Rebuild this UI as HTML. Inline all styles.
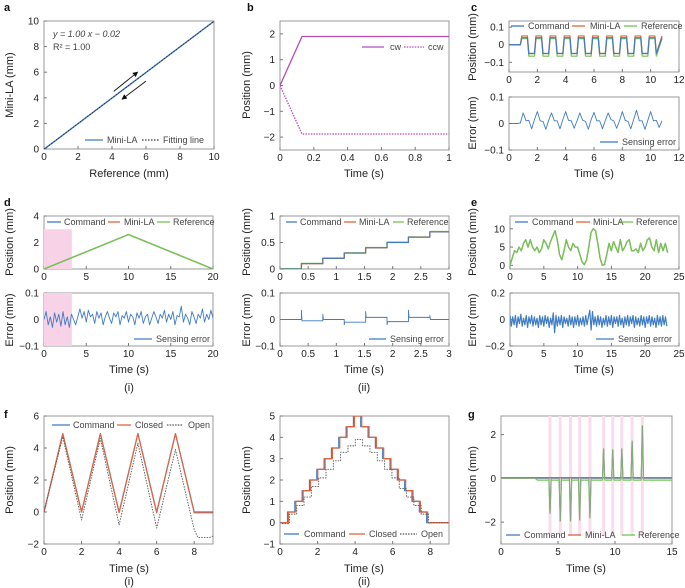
<!DOCTYPE html>
<html><head><meta charset="utf-8">
<style>
html,body{margin:0;padding:0;background:#fff;}
svg{display:block;font-family:"Liberation Sans",sans-serif;}
.tk{font-size:10px;fill:#222;}
.tt{font-size:11px;fill:#222;}
.lg{font-size:9px;fill:#444;}
.pl{font-size:11px;font-weight:bold;fill:#111;}
</style></head>
<body>
<svg id="fig" width="685" height="588" viewBox="0 0 685 588"></svg>
<script>
// ---------- data ----------
const aRef=[0,10];
const aMini=[-0.02,9.98];
const aXTicks=[0,2,4,6,8,10];
const aYTicks=[0,2,4,6,8,10];

const bTime=[0,0.13,1];
const bCw=[0,1.9,1.9];
const bCcw=[0,-1.88,-1.88];
const bXTicks=[0,0.2,0.4,0.6,0.8,1];
const bYTicks=[-2,-1,0,1,2];

const cTime=[0,0.8,0.9,1.3,1.4,1.8,1.9,2.3,2.4,2.8,2.9,3.3,3.4,3.8,3.9,4.3,4.4,4.8,4.9,5.3,5.4,5.8,5.9,6.3,6.4,6.8,6.9,7.3,7.4,7.8,7.9,8.3,8.4,8.8,8.9,9.3,9.4,9.8,9.9,10.3,10.4,10.8];
const cCmd=[0,0,0.04,0.04,-0.05,-0.05,0.04,0.04,-0.05,-0.05,0.04,0.04,-0.05,-0.05,0.04,0.04,-0.05,-0.05,0.04,0.04,-0.05,-0.05,0.04,0.04,-0.05,-0.05,0.04,0.04,-0.05,-0.05,0.04,0.04,-0.05,-0.05,0.04,0.04,-0.05,-0.05,0.04,0.04,-0.05,0.04];
const cMini=[0,0,0.05,0.05,-0.05,-0.05,0.05,0.05,-0.05,-0.05,0.05,0.05,-0.05,-0.05,0.05,0.05,-0.05,-0.05,0.05,0.05,-0.05,-0.05,0.05,0.05,-0.05,-0.05,0.05,0.05,-0.05,-0.05,0.05,0.05,-0.05,-0.05,0.05,0.05,-0.05,-0.05,0.05,0.05,-0.05,0.05];
const cRefS=[0,0,0.035,0.035,-0.065,-0.065,0.035,0.035,-0.065,-0.065,0.035,0.035,-0.065,-0.065,0.035,0.035,-0.065,-0.065,0.035,0.035,-0.065,-0.065,0.035,0.035,-0.065,-0.065,0.035,0.035,-0.065,-0.065,0.035,0.035,-0.065,-0.065,0.035,0.035,-0.065,-0.065,0.035,0.035,-0.065,0.035];
const cErrDt=0.2;
const cErr=[0,0,0,0,0.002,0.04,0.01,0.012,-0.02,0.015,0.045,0.01,0.008,-0.022,0.012,0.04,0.01,0.01,-0.02,0.015,0.045,0.012,0.01,-0.018,0.01,0.04,0.012,0.008,-0.022,0.015,0.042,0.01,0.01,-0.02,0.012,0.04,0.015,0.01,-0.018,0.01,0.045,0.012,0.008,-0.02,0.015,0.05,0.01,0.01,-0.022,0.012,0.045,0.01,0.012,-0.015,0.01];
const cXTicks=[0,2,4,6,8,10,12];
const cYTicks=[-0.1,0,0.1];

const d1Time=[0,10,20];
const d1Pos=[0,2.6,0];
const d1Highlight=[0,3.3];
const d1ErrDt=0.25;
const d1Err=[0,0.03,-0.02,0.01,-0.03,0.025,-0.01,0.02,-0.025,0.03,-0.02,0.01,-0.03,0.02,0,-0.02,0.01,0.04,0.005,0.03,-0.01,0.035,0.01,0.02,-0.015,0.03,0.005,0.025,-0.02,0.01,0.03,0.005,-0.015,0.025,0.01,0.03,-0.02,0.015,0.005,0.03,-0.01,0.02,0.01,-0.02,0.025,0.005,0.03,-0.015,0.01,0.02,-0.02,0.005,0.03,0.01,-0.015,0.02,0.005,0.035,-0.01,0.02,0,0.03,-0.02,0.015,0.01,0.05,-0.01,0.02,0.005,-0.02,0.03,0.01,-0.015,0.02,0.005,0.04,-0.01,0.02,0,0.035,0.005];
const d1XTicks=[0,5,10,15,20];

const d2StepT=[0,0.38,0.76,1.14,1.52,1.9,2.28,2.66,3];
const d2StepV=[0,0.1,0.2,0.3,0.4,0.5,0.6,0.7,0.7];
const d2ErrOff=[0,-0.005,0,-0.01,0.008,-0.008,0.008,0,0];
const d2Spike=[0,0.035,0.02,-0.02,0.03,-0.02,0.035,0.015,0];
const d2XTicks=[0,0.5,1,1.5,2,2.5,3];

const eDt=0.333;
const ePos=[0,2,4,3.5,5,4,6,7,5,7,5,4,5,3.5,4.5,7,6,4.5,6.5,8,9.5,7,3,1.5,4,7,5,4,6,5,5,3,1,0.2,1.5,5,9,10,9.5,6,2,0,0.2,3,6,4,6.5,5,3.5,7,4,5,6.5,7,4,4,4.5,3.5,6,4,5,7,7.5,5,4,7,3.5,6,4,6,3.5];
const eErrDt=0.2;
const eErr=[0.03,-0.05,0.02,-0.04,0.03,-0.06,0.02,-0.03,0.04,-0.05,0.01,-0.04,0.03,-0.06,0.02,-0.03,0.03,-0.05,0.02,-0.04,0.01,-0.06,0.03,-0.04,0.02,-0.05,0.03,-0.03,0.02,-0.06,0.01,-0.04,0.05,-0.1,0.03,-0.05,0.02,-0.04,0.03,-0.06,0.02,-0.03,0.01,-0.05,0.03,-0.04,0.02,-0.06,0.02,-0.04,0.03,-0.05,0.01,-0.04,0.02,-0.05,0.03,-0.04,0.02,0.07,-0.08,0.06,-0.04,0.02,-0.05,0.03,-0.04,0.02,-0.06,0.01,-0.04,0.03,-0.05,0.02,-0.04,0.03,-0.06,0.02,-0.03,0.02,-0.05,0.03,-0.04,0.01,-0.06,0.02,-0.04,0.03,-0.05,0.02,-0.03,0.03,-0.06,0.02,-0.04,0.01,-0.05,0.03,-0.04,0.02,-0.06,0.02,-0.03,0.03,-0.05,0.02,-0.04,0.01,-0.06,0.03,-0.04,0.02,-0.05,0.03,-0.04,0.02,-0.05];
const eXTicks=[0,5,10,15,20,25];

const f1Time=[0,1,2,3,4,5,6,7,8,9];
const f1Cmd=[0,4.9,0,4.9,0,4.9,0,4.9,0,0];
const f1Closed=[0,4.9,0,4.9,-0.05,4.9,-0.05,4.9,-0.05,-0.05];
const f1OpenT=[0,1,2,3,4,5,6,7,8,8.2,8.8,9];
const f1Open=[0,4.7,-0.5,4.6,-0.8,4.3,-1,3.9,-1.1,-1.6,-1.6,-1.5];
const fXTicks=[0,2,4,6,8];

const f2StepT=[0,0.4,0.79,1.18,1.57,1.96,2.35,2.74,3.13,3.52,3.91,4.3,4.69,5.08,5.47,5.86,6.25,6.64,7.03,7.42,7.81,9];
const f2Cmd=[0,0.5,1,1.5,2,2.5,3,3.5,4,4.5,5,4.5,4,3.5,3,2.5,2,1.5,1,0.5,0,0];
const f2Open=[-0.05,0.4,0.8,1.2,1.7,2.1,2.5,2.9,3.3,3.6,3.9,3.6,3.3,2.9,2.5,2.1,1.6,1.2,0.8,0.4,0,-0.3];
const f2YTicks=[-1,0,1,2,3,4,5];

const gSpikeT=[4.3,5.2,6.1,6.9,7.8,9.0,9.8,10.6,11.5,12.4];
const gSpikeV=[-1.6,-1.95,-1.95,-1.9,-1.8,1.35,1.3,1.35,1.7,2.4];
const gXTicks=[0,5,10,15];
const gYTicks=[-2,0,2];

// ---------- helpers ----------
const NS='http://www.w3.org/2000/svg';
const svg=document.getElementById('fig');
function el(tag,attrs,parent){const e=document.createElementNS(NS,tag);for(const k in attrs)e.setAttribute(k,attrs[k]);(parent||svg).appendChild(e);return e;}
function fmt(v){let s=String(Math.round(v*1000)/1000);return s.replace('-','\u2212');}
function axes(name,x,y,w,h,xlim,ylim,xt,yt,showX){
  const g=el('g',{});
  
  
  const sx=v=>x+(v-xlim[0])/(xlim[1]-xlim[0])*w;
  const sy=v=>y+h-(v-ylim[0])/(ylim[1]-ylim[0])*h;
  const fr=el('rect',{x:x,y:y,width:w,height:h,fill:'none',stroke:'#999','stroke-width':1},g);
  
  
  xt.forEach(v=>{
    el('line',{x1:sx(v),x2:sx(v),y1:y+h,y2:y+h-3,stroke:'#777'},g);
    if(showX!==false){const t=el('text',{x:sx(v),y:y+h+11,'text-anchor':'middle',class:'tk'},g);t.textContent=fmt(v);
    
    }
  });
  yt.forEach(v=>{
    el('line',{x1:x,x2:x+3,y1:sy(v),y2:sy(v),stroke:'#777'},g);
    const t=el('text',{x:x-5,y:sy(v)+3.5,'text-anchor':'end',class:'tk'},g);t.textContent=fmt(v);
    
    
  });
  const cid='c'+name;
  const cp=el('clipPath',{id:cid},g);el('rect',{x:x,y:y,width:w,height:h},cp);
  const inner=el('g',{'clip-path':'url(#'+cid+')'},g);
  return {sx,sy,g,inner};
}
function line(ax,xs,ys,color,name,opts){
  opts=opts||{};
  const pts=xs.map((v,i)=>ax.sx(v).toFixed(2)+','+ax.sy(ys[i]).toFixed(2)).join(' ');
  const p=el('polyline',{points:pts,fill:'none',stroke:color,'stroke-width':opts.w||1.2,'stroke-dasharray':opts.dash||'none','stroke-linejoin':'round'},ax.inner);
  
  
  return p;
}
function steps(t,v){const xs=[],ys=[];for(let i=0;i<t.length;i++){if(i>0){xs.push(t[i]);ys.push(v[i-1]);}xs.push(t[i]);ys.push(v[i]);}return [xs,ys];}
function seriesT(vals,dt){return vals.map((_,i)=>i*dt);}
function text(x,y,s,cls,name,extra){const t=el('text',Object.assign({x:x,y:y,class:cls},extra||{}));t.textContent=s;
  
  return t;}
function ytitle(x,cy,s,name){const t=el('text',{x:0,y:0,class:'tt','text-anchor':'middle',transform:'translate('+x+','+cy+') rotate(-90)'});t.textContent=s;
  
  }
function legend(x1,x2,y,color,label,tx,name,dash){
  const g=el('g',{});
  
  
  el('line',{x1:x1,x2:x2,y1:y,y2:y,stroke:color,'stroke-width':1.3,'stroke-dasharray':dash||'none'},g);
  const t=el('text',{x:tx,y:y+3,class:'lg'},g);t.textContent=label;
}
const BLUE='#3f7cc4',RED='#e2643c',GREEN='#72c654',PINK='#f8d3e8',PURP='#b84ab8';

// panel labels
[['a',4,11],['b',247,11],['c',471,11],['d',4,206],['e',471,206],['f',4,418],['g',468,418]].forEach(p=>text(p[1],p[2],p[0],'pl','panel-label-'+p[0]));

// ---- a ----
let A=axes('panel-a',44,21,170,128,[0,10],[0,10],aXTicks,aYTicks);
line(A,aRef,aMini,BLUE,'mini-la-line',{w:1.4});
line(A,aRef,aMini,'#223',"fitting-line",{w:0.8,dash:'1.5,1.5'});
el('line',{x1:A.sx(4.1),y1:A.sy(4.5),x2:A.sx(5.5),y2:A.sy(6.0),stroke:'#111','stroke-width':0.9,'marker-end':'url(#ar)'});
el('line',{x1:A.sx(6.0),y1:A.sy(5.3),x2:A.sx(4.6),y2:A.sy(3.9),stroke:'#111','stroke-width':0.9,'marker-end':'url(#ar)'});
const defs=el('defs',{});const mk=el('marker',{id:'ar',markerWidth:6,markerHeight:6,refX:5,refY:3,orient:'auto'},defs);el('path',{d:'M0,0 L6,3 L0,6 z',fill:'#111'},mk);
text(53,37,'y = 1.00 x \u2212 0.02','lg','fit-equation',{'font-style':'italic'});
text(53,50,'R\u00b2 = 1.00','lg','r-squared');
legend(85,103,140,BLUE,'Mini-LA',107,'legend-mini-la');
legend(142,159,140,'#333','Fitting line',163,'legend-fitting-line','1.5,1.5');
ytitle(13,85,'Mini-LA (mm)','y-axis-title-a');
text(129,177,'Reference (mm)','tt','x-axis-title-a',{'text-anchor':'middle'});

// ---- b ----
let B=axes('panel-b',280,21,169,129,[0,1],[-2.5,2.5],bXTicks,bYTicks);
line(B,bTime,bCw,PURP,'cw-line',{w:1.3});
line(B,bTime,bCcw,PURP,'ccw-line',{w:1.3,dash:'1.5,1.2'});
legend(362,384,47,PURP,'cw',390,'legend-cw');
legend(404,424,47,PURP,'ccw',428,'legend-ccw','1.5,1.2');
ytitle(250,85,'Position (mm)','y-axis-title-b');
text(364,177,'Time (s)','tt','x-axis-title-b',{'text-anchor':'middle'});

// ---- c ----
let C1=axes('panel-c-position',509,21,170,51,[0,12],[-0.155,0.135],cXTicks,cYTicks);
line(C1,cTime,cRefS,GREEN,'c-reference-line');
line(C1,cTime,cMini,RED,'c-mini-la-line');
line(C1,cTime,cCmd,BLUE,'c-command-line');
legend(511,524,26,BLUE,'Command',528,'legend-command');
legend(572,585,26,RED,'Mini-LA',590,'legend-mini-la');
legend(624,637,26,GREEN,'Reference',641,'legend-reference');
ytitle(476,47,'Position (mm)','y-axis-title-c-pos');
let C2=axes('panel-c-error',509,97,170,53,[0,12],[-0.1,0.1],cXTicks,cYTicks);
line(C2,seriesT(cErr,cErrDt),cErr,BLUE,'c-sensing-error-line',{w:0.9});
legend(600,618,142,BLUE,'Sensing error',622,'legend-sensing-error');
ytitle(476,123,'Error (mm)','y-axis-title-c-err');
text(594,177,'Time (s)','tt','x-axis-title-c',{'text-anchor':'middle'});

// ---- d(i) ----
let D1=axes('panel-d-i-position',44,216,169,53,[0,20],[0,4],d1XTicks,[0,2,4]);
el('rect',{x:D1.sx(d1Highlight[0]),y:D1.sy(3),width:D1.sx(d1Highlight[1])-D1.sx(d1Highlight[0]),height:D1.sy(0)-D1.sy(3),fill:PINK},D1.inner);
line(D1,d1Time,d1Pos,BLUE,'d-i-command-line');
line(D1,d1Time,d1Pos,RED,'d-i-mini-la-line');
line(D1,d1Time,d1Pos,GREEN,'d-i-reference-line',{w:1.4});
legend(47,61,222,BLUE,'Command',64,'legend-command');
legend(108,120,222,RED,'Mini-LA',124,'legend-mini-la');
legend(157,170,222,GREEN,'Reference',173,'legend-reference');
ytitle(13,242,'Position (mm)','y-axis-title-d-i-pos');
let D1e=axes('panel-d-i-error',44,293,169,53,[0,20],[-0.1,0.1],d1XTicks,[-0.1,0,0.1]);
el('rect',{x:D1e.sx(d1Highlight[0]),y:293,width:D1e.sx(d1Highlight[1])-D1e.sx(d1Highlight[0]),height:53,fill:PINK},D1e.inner);
line(D1e,seriesT(d1Err,d1ErrDt),d1Err,BLUE,'d-i-sensing-error-line',{w:0.9});
legend(134,152,339,BLUE,'Sensing error',156,'legend-sensing-error');
ytitle(13,320,'Error (mm)','y-axis-title-d-i-err');
text(129,373,'Time (s)','tt','x-axis-title-d-i',{'text-anchor':'middle'});
text(129,391,'(i)','tt','subpanel-label-i',{'text-anchor':'middle'});

// ---- d(ii) ----
let D2=axes('panel-d-ii-position',280,216,169,53,[0,3],[0,1],d2XTicks,[0,0.5,1]);
let st=steps(d2StepT,d2StepV);
line(D2,st[0],st[1].map(v=>v+0.005),GREEN,'d-ii-reference-line',{w:1.4});
line(D2,st[0],st[1],RED,'d-ii-mini-la-line');
line(D2,st[0],st[1],BLUE,'d-ii-command-line',{w:0.9});
legend(286,297,222,BLUE,'Command',300,'legend-command');
legend(344,356,222,RED,'Mini-LA',359,'legend-mini-la');
legend(393,404,222,GREEN,'Reference',407,'legend-reference');
ytitle(250,242,'Position (mm)','y-axis-title-d-ii-pos');
let D2e=axes('panel-d-ii-error',280,293,169,53,[0,3],[-0.1,0.1],d2XTicks,[-0.1,0,0.1]);
(function(){const xs=[],ys=[];for(let i=0;i<d2StepT.length-1;i++){xs.push(d2StepT[i]);ys.push(d2Spike[i]);xs.push(d2StepT[i]+0.01);ys.push(d2ErrOff[i]);xs.push(d2StepT[i+1]);ys.push(d2ErrOff[i]);}
line(D2e,xs,ys,BLUE,'d-ii-sensing-error-line',{w:0.9});})();
legend(369,386,339,BLUE,'Sensing error',390,'legend-sensing-error');
ytitle(250,320,'Error (mm)','y-axis-title-d-ii-err');
text(364,373,'Time (s)','tt','x-axis-title-d-ii',{'text-anchor':'middle'});
text(364,391,'(ii)','tt','subpanel-label-ii',{'text-anchor':'middle'});

// ---- e ----
let E1=axes('panel-e-position',510,216,169,53,[0,25],[-1,13.5],eXTicks,[0,5,10]);
const eT=seriesT(ePos,eDt);
line(E1,eT,ePos,BLUE,'e-command-line');
line(E1,eT,ePos,RED,'e-mini-la-line');
line(E1,eT,ePos,GREEN,'e-reference-line',{w:1.3});
legend(515,528,222,BLUE,'Command',532,'legend-command');
legend(576,590,222,RED,'Mini-LA',593,'legend-mini-la');
legend(620,633,222,GREEN,'Reference',636,'legend-reference');
ytitle(476,242,'Position (mm)','y-axis-title-e-pos');
let E2=axes('panel-e-error',510,293,169,53,[0,25],[-0.2,0.2],eXTicks,[-0.2,0,0.2]);
line(E2,seriesT(eErr,eErrDt),eErr,BLUE,'e-sensing-error-line',{w:1.2});
legend(596,614,339,BLUE,'Sensing error',618,'legend-sensing-error');
ytitle(476,320,'Error (mm)','y-axis-title-e-err');
text(594,373,'Time (s)','tt','x-axis-title-e',{'text-anchor':'middle'});

// ---- f(i) ----
let F1=axes('panel-f-i',44,416,169,128,[0,9],[-2,6],fXTicks,[-2,0,2,4,6]);
line(F1,f1Time,f1Cmd,BLUE,'f-i-command-line');
line(F1,f1Time,f1Closed,RED,'f-i-closed-line');
line(F1,f1OpenT,f1Open,'#555','f-i-open-line',{w:0.9,dash:'1.5,1.2'});
legend(52,70,425,BLUE,'Command',73,'legend-command');
legend(117,131,425,RED,'Closed',135,'legend-closed');
legend(167,183,425,'#555','Open',188,'legend-open','1.5,1.2');
ytitle(13,480,'Position (mm)','y-axis-title-f-i');
text(129,572,'Time (s)','tt','x-axis-title-f-i',{'text-anchor':'middle'});
text(129,585,'(i)','tt','subpanel-label-f-i',{'text-anchor':'middle'});

// ---- f(ii) ----
let F2=axes('panel-f-ii',280,416,169,128,[0,9],[-1,5],fXTicks,f2YTicks);
st=steps(f2StepT,f2Cmd);
line(F2,st[0],st[1],BLUE,'f-ii-command-line');
line(F2,st[0].map(v=>v+0.05),st[1],RED,'f-ii-closed-line',{w:1.3});
st=steps(f2StepT.map(v=>v+0.1),f2Open);
line(F2,st[0],st[1],'#555','f-ii-open-line',{w:0.9,dash:'1.5,1.2'});
legend(284,299,534,BLUE,'Command',304,'legend-command');
legend(349,365,534,RED,'Closed',369,'legend-closed');
legend(400,417,534,'#555','Open',421,'legend-open','1.5,1.2');
ytitle(250,480,'Position (mm)','y-axis-title-f-ii');
text(364,572,'Time (s)','tt','x-axis-title-f-ii',{'text-anchor':'middle'});
text(364,585,'(ii)','tt','subpanel-label-f-ii',{'text-anchor':'middle'});

// ---- g ----
let G=axes('panel-g',501,416,171,128,[0,15],[-3,2.85],gXTicks,gYTicks);
gSpikeT.forEach(t=>{const r=el('rect',{x:G.sx(t)-1.5,y:416,width:3,height:120,fill:'#fbdcec'},G.inner);
  
  });
(function(){const xs=[0],ys=[0],xg=[0,3,3.2],yg=[0,0,-0.08];
gSpikeT.forEach((t,i)=>{xs.push(t-0.1,t,t+0.1);ys.push(0,gSpikeV[i],0);xg.push(t-0.1,t,t+0.1);yg.push(-0.08,gSpikeV[i],-0.08);});
xs.push(15);ys.push(0);xg.push(15);yg.push(-0.08);
line(G,[0,15],[0.03,0.03],RED,'g-mini-la-line',{w:1.3});
line(G,xs,ys,BLUE,'g-command-line',{w:1});
line(G,xg,yg,GREEN,'g-reference-line',{w:1.2});
line(G,xs,ys,'#999','g-overlap-line',{w:0.6});})();
legend(506,520,535,BLUE,'Command',524,'legend-command');
legend(568,581,535,RED,'Mini-LA',585,'legend-mini-la');
legend(622,635,535,GREEN,'Reference',638,'legend-reference');
ytitle(476,480,'Position (mm)','y-axis-title-g');
text(586,572,'Time (s)','tt','x-axis-title-g',{'text-anchor':'middle'});
</script>
</body></html>
